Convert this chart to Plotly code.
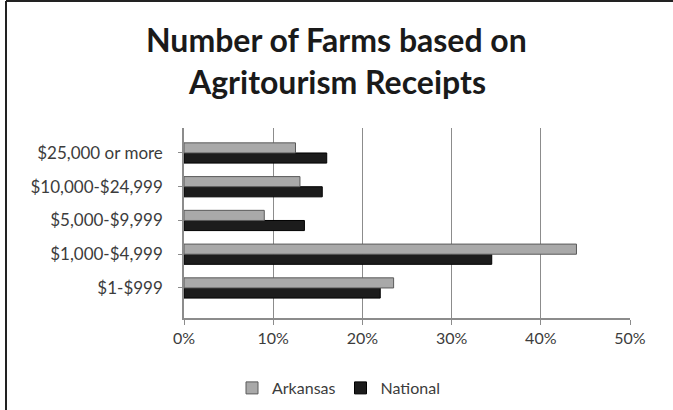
import plotly.graph_objects as go

categories = ["$1-$999", "$1,000-$4,999", "$5,000-$9,999", "$10,000-$24,999", "$25,000 or more"]
arkansas = [23.5, 44.0, 9.0, 13.0, 12.5]
national = [22.0, 34.5, 13.5, 15.5, 16.0]
x_ticks = [0, 10, 20, 30, 40, 50]
x_tick_labels = [f"{v}%" for v in x_ticks]
title_lines = ["Number of Farms based on", "Agritourism Receipts"]

W, H = 673, 410
L, R, T, B = 184, 43, 128, 92
pw, ph = W - L - R, H - T - B

def px_x(p):
    return (p - L) / pw

def px_y(p):
    return (H - B - p) / ph

FONT = "Lato, 'Open Sans', sans-serif"

fig = go.Figure()
fig.add_trace(go.Bar(
    y=categories, x=national, orientation="h", name="National",
    marker=dict(color="#1c1c1c", line=dict(color="#000000", width=1)),
    legendrank=2,
))
fig.add_trace(go.Bar(
    y=categories, x=arkansas, orientation="h", name="Arkansas",
    marker=dict(color="#a9a9a9", line=dict(color="#5a5a5a", width=1)),
    legendrank=1,
))

annotations = []
for line, yc in zip(title_lines, [39, 82]):
    annotations.append(dict(
        text=f"<b>{line}</b>", xref="paper", yref="paper",
        x=px_x(W / 2), y=px_y(yc), xanchor="center", yanchor="middle",
        showarrow=False,
        font=dict(size=32, color="#1a1a1a", family=FONT),
    ))

fig.update_layout(
    width=W, height=H,
    margin=dict(l=L, r=R, t=T, b=B, autoexpand=False),
    paper_bgcolor="white", plot_bgcolor="white",
    barmode="group", bargap=0.4, bargroupgap=0.0,
    font=dict(family=FONT, color="#3c3c3c", size=16),
    xaxis=dict(
        range=[0, 50], tickvals=x_ticks, ticktext=x_tick_labels,
        showgrid=True, gridcolor="#8c8c8c", gridwidth=1,
        showline=True, linecolor="#8c8c8c", linewidth=1.5,
        ticks="outside", ticklen=5, tickcolor="#8c8c8c",
        zeroline=False, fixedrange=True,
        tickfont=dict(size=16, color="#3c3c3c"),
    ),
    yaxis=dict(
        range=[-0.89, 4.74],
        showline=True, linecolor="#8c8c8c", linewidth=1.5,
        ticks="outside", ticklen=4, tickcolor="#8c8c8c",
        showgrid=False, fixedrange=True,
        tickfont=dict(size=17, color="#3c3c3c"),
        ticklabelstandoff=12,
    ),
    legend=dict(
        orientation="h", x=px_x(232), xanchor="left",
        y=px_y(388), yanchor="middle",
        font=dict(size=16, color="#3c3c3c"),
        itemwidth=30, tracegroupgap=0,
    ),
    showlegend=True,
    annotations=annotations,
    shapes=[
        dict(type="line", xref="paper", yref="paper",
             x0=px_x(6), x1=px_x(6), y0=px_y(H + 5), y1=px_y(1),
             line=dict(color="#222222", width=2)),
        dict(type="line", xref="paper", yref="paper",
             x0=px_x(6), x1=px_x(W + 5), y0=px_y(1), y1=px_y(1),
             line=dict(color="#222222", width=2)),
    ],
)

fig.write_html("out.html", config={"displayModeBar": False},
               post_script="document.body.style.margin='0';")
